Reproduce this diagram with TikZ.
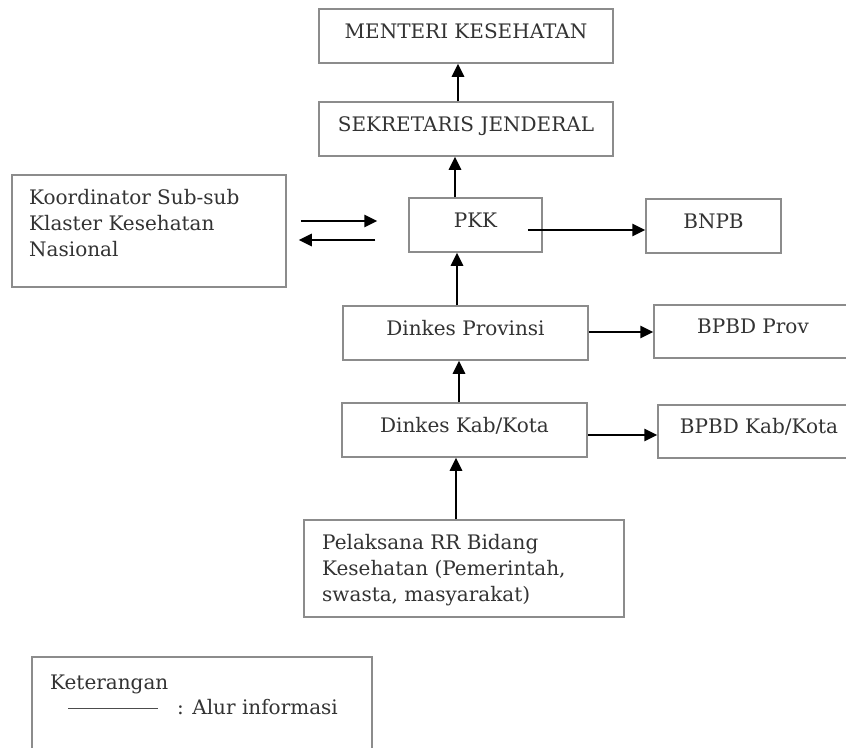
\documentclass[tikz,border=0pt]{standalone}
\usepackage{fontspec}
\setmainfont{DejaVu Serif}
\usetikzlibrary{arrows.meta,calc}
\begin{document}
\begin{tikzpicture}[x=1pt,y=-1pt]
\tikzset{
 boxst/.style={draw=black!45, line width=1.5pt, inner sep=0pt, text=black!80,
   font=\fontsize{20}{26}\selectfont, text height=15pt, text depth=10.5pt},
 txtst/.style={inner sep=0pt, text=black!80, font=\fontsize{20}{26}\selectfont,
   align=left, anchor=north west},
 arr/.style={line width=2.6pt, -{Triangle[length=13pt,width=12pt]}}
}
\useasboundingbox (0,0) rectangle (846,747);
\clip (0,0) rectangle (846,747);
\fill[white] (0,0) rectangle (846,747);

% boxes
\node[boxst, minimum width=294pt, minimum height=54pt] (menteri) at (466,36) {MENTERI KESEHATAN};
\node[boxst, minimum width=294pt, minimum height=54pt] (sekjen) at (466,129) {SEKRETARIS JENDERAL};
\node[boxst, minimum width=274pt, minimum height=112pt] (koord) at (149,231) {};
\node[txtst] (koordtxt) at (29,189.5) {Koordinator Sub-sub\\Klaster Kesehatan\\Nasional};
\node[boxst, minimum width=133pt, minimum height=54pt] (pkk) at (475.5,225) {PKK};
\node[boxst, minimum width=135pt, minimum height=54pt] (bnpb) at (713.5,226) {BNPB};
\node[boxst, minimum width=245pt, minimum height=54pt] (dprov) at (465.5,333) {Dinkes Provinsi};
\node[boxst, minimum width=198pt, minimum height=53pt] (bprov) at (753,331.5) {BPBD Prov};
\node[boxst, minimum width=245pt, minimum height=54pt] (dkab) at (464.5,430) {Dinkes Kab/Kota};
\node[boxst, minimum width=202pt, minimum height=53pt] (bkab) at (759,431.5) {BPBD Kab/Kota};
\node[boxst, minimum width=320pt, minimum height=97pt] (pelak) at (464,568.5) {};
\node[txtst] (pelaktxt) at (322,534.5) {Pelaksana RR Bidang\\Kesehatan (Pemerintah,\\swasta, masyarakat)};

% legend
\node[boxst, minimum width=340pt, minimum height=110pt] (legend) at (202,712) {};
\node[txtst] (ket) at (50,674.5) {Keterangan};
\node[txtst] (alur) at (177,699.5) {: Alur informasi};
\coordinate (lgA) at (68,708);
\coordinate (lgB) at (158,708);
\draw[line width=1pt, black!70] (lgA) -- (lgB);

% connectors
\draw[arr] ($(sekjen.north)+(-8,0)$) -- ($(menteri.south)+(-8,0)$);
\draw[arr] ($(pkk.north)+(-20.5,0)$) -- ($(sekjen.south)+(-11,0)$);
\draw[arr] ($(dprov.north)+(-8.5,0)$) -- ($(pkk.south)+(-18.5,0)$);
\draw[arr] ($(dkab.north)+(-5.5,0)$) -- ($(dprov.south)+(-6.5,0)$);
\draw[arr] ($(pelak.north)+(-8,0)$) -- ($(dkab.south)+(-8.5,0)$);
\draw[arr] ($(koord.east)+(14,-10)$) -- ($(pkk.west)+(-31,-4)$);
\draw[arr] ($(pkk.west)+(-33,15)$) -- ($(koord.east)+(12,9)$);
\draw[arr] ($(pkk.east)+(-15,5)$) -- ($(bnpb.west)+(0,4)$);
\draw[arr] ($(dprov.east)+(0,-1)$) -- ($(bprov.west)+(0,0.5)$);
\draw[arr] ($(dkab.east)+(0,5)$) -- ($(bkab.west)+(0,3.5)$);
\end{tikzpicture}
\end{document}
